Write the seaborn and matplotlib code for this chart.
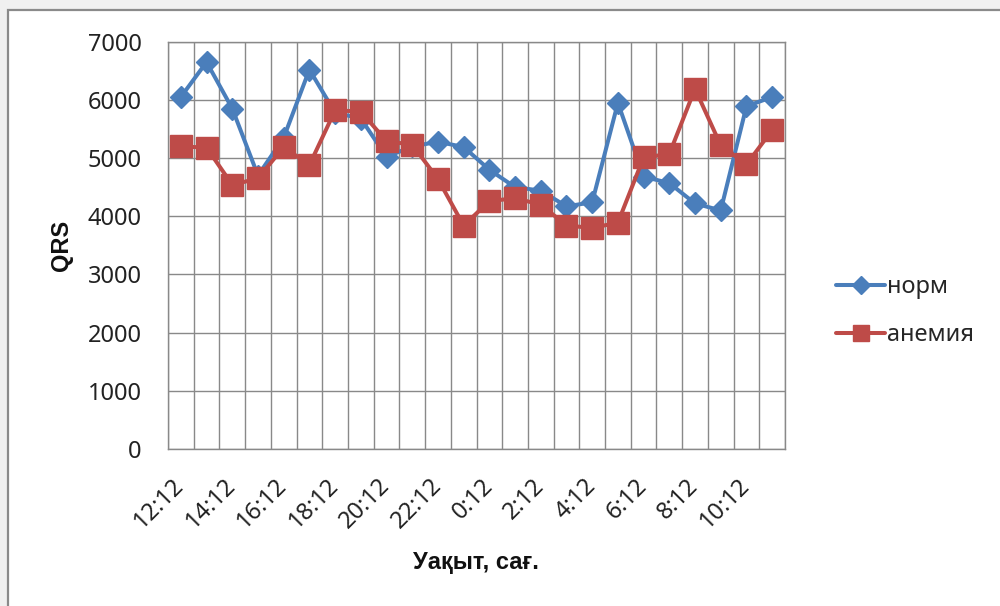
import numpy as np
import pandas as pd
import matplotlib
matplotlib.use("Agg")
import matplotlib.pyplot as plt
import seaborn as sns
from matplotlib.lines import Line2D
from matplotlib.patches import Rectangle
import matplotlib.transforms as mtransforms

# ---- data ----
times = ['12:12', '13:12', '14:12', '15:12', '16:12', '17:12', '18:12', '19:12',
         '20:12', '21:12', '22:12', '23:12', '0:12', '1:12', '2:12', '3:12',
         '4:12', '5:12', '6:12', '7:12', '8:12', '9:12', '10:12', '11:12']
norm = [6050, 6650, 5850, 4700, 5350, 6520, 5780, 5680, 5020, 5200, 5280, 5190,
        4800, 4500, 4440, 4170, 4240, 5950, 4680, 4570, 4220, 4100, 5890, 6050]
anemia = [5200, 5180, 4540, 4650, 5190, 4880, 5820, 5800, 5290, 5230, 4640, 3840,
          4260, 4310, 4200, 3840, 3800, 3890, 5010, 5070, 6190, 5220, 4890, 5480]
series_names = ['норм', 'анемия']
y_ticks = [0, 1000, 2000, 3000, 4000, 5000, 6000, 7000]
x_title = 'Уақыт, сағ.'
y_title = 'QRS'

BLUE = '#4A7EBB'
RED = '#BE4B48'
GRID = '#898989'

sns.set_style('white')
plt.rcParams['font.family'] = ['Noto Sans', 'DejaVu Sans']
BOLD_FAMILY = ['Liberation Sans', 'DejaVu Sans']

fig = plt.figure(figsize=(10, 6.06), dpi=100)
fig.patch.set_facecolor('white')

# outer window-like frame
fig.add_artist(Rectangle((0, 0), 1, 1, transform=fig.transFigure,
                         facecolor='#f0f0f0', edgecolor='none', zorder=-10))
fig.add_artist(Rectangle((0.008, -0.1), 1.1, 1.1 - 10 / 606, transform=fig.transFigure,
                         facecolor='white', edgecolor='#8a8a8a', linewidth=1.6, zorder=-9))

ax = fig.add_axes([0.168, 1 - 449 / 606, 0.617, (449 - 41.7) / 606])
ax.set_facecolor('none')

pos = np.arange(len(times))
df = pd.DataFrame({'pos': np.concatenate([pos, pos]),
                   'value': norm + anemia,
                   'series': [series_names[0]] * len(times) + [series_names[1]] * len(times)})

sns.lineplot(data=df[df.series == series_names[0]], x='pos', y='value', ax=ax,
             color=BLUE, linewidth=2.9, marker='D', markersize=11,
             markeredgecolor=BLUE, markeredgewidth=1, legend=False, zorder=3)
sns.lineplot(data=df[df.series == series_names[1]], x='pos', y='value', ax=ax,
             color=RED, linewidth=2.9, marker='s', markersize=15.5,
             markeredgecolor=RED, markeredgewidth=1, legend=False, zorder=4)

ax.set_xlim(-0.5, len(times) - 0.5)
ax.set_ylim(0, 7000)
ax.set_yticks(y_ticks)
ax.set_yticklabels([str(v) for v in y_ticks], fontsize=17, color='#222222')
ax.set_xticks(pos[::2])
ax.set_xticklabels(times[::2], fontsize=17, color='#222222', rotation=45,
                   ha='right', va='center', rotation_mode='anchor')
ax.set_xticks(np.arange(-0.5, len(times), 1.0), minor=True)
offset = mtransforms.ScaledTranslation(4 / 100, 2 / 100, fig.dpi_scale_trans)
for lab in ax.get_xticklabels():
    lab.set_transform(lab.get_transform() + offset)

ax.tick_params(axis='x', which='major', length=0, pad=24)
ax.tick_params(axis='x', which='minor', length=6, width=1, color=GRID, direction='out')
ax.tick_params(axis='y', which='major', length=7, width=1, color=GRID, direction='out', pad=12)
ax.grid(True, axis='y', which='major', color=GRID, linewidth=1)
ax.grid(True, axis='x', which='minor', color=GRID, linewidth=1)
ax.grid(False, axis='x', which='major')
for s in ax.spines.values():
    s.set_color(GRID)
    s.set_linewidth(1)
ax.set_axisbelow(True)

ax.set_xlabel('')
ax.set_ylabel('')
fig.text(0.062, 1 - 245 / 606, y_title, rotation=90, ha='center', va='center',
         fontsize=17, fontweight='bold', color='#111111', family=BOLD_FAMILY)
fig.text(0.476, 1 - 562 / 606, x_title, ha='center', va='center',
         fontsize=17, fontweight='bold', color='#111111', family=BOLD_FAMILY)

handles = [Line2D([0], [0], color=BLUE, lw=2.9, marker='D', markersize=9,
                  markeredgecolor=BLUE),
           Line2D([0], [0], color=RED, lw=2.9, marker='s', markersize=12,
                  markeredgecolor=RED)]
fig.legend(handles, series_names, loc='center left',
           bbox_to_anchor=(0.824, 1 - 311 / 606), frameon=False, fontsize=17,
           handlelength=2.1, handletextpad=0.05, labelspacing=1.0, borderpad=0)

fig.savefig('out.png', dpi=100, facecolor=fig.get_facecolor())
